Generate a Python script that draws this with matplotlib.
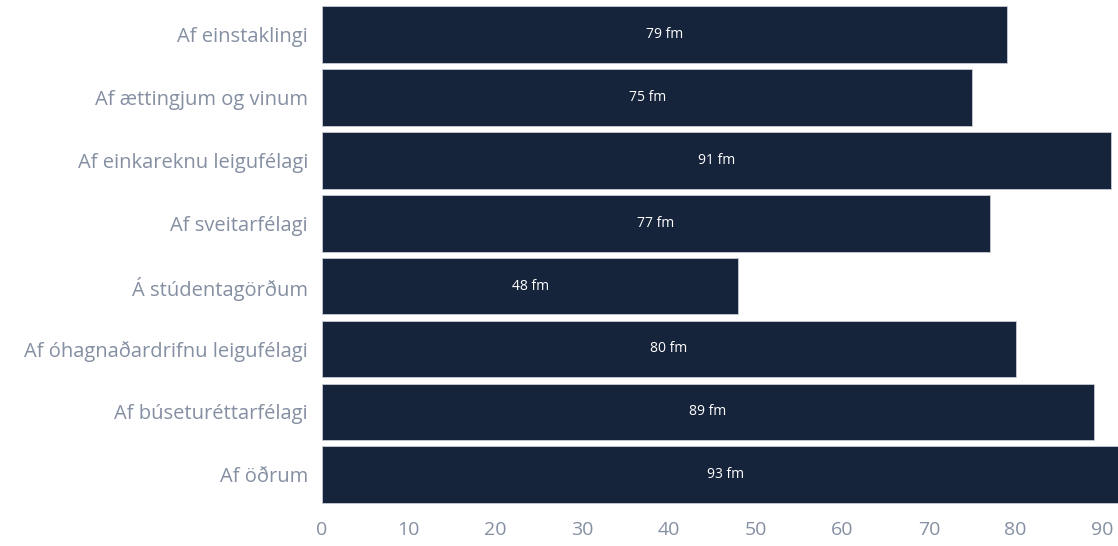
import matplotlib.pyplot as plt
import numpy as np

categories = ['Af einstaklingi', 'Af ættingjum og vinum', 'Af einkareknu leigufélagi',
              'Af sveitarfélagi', 'Á stúdentagörðum', 'Af óhagnaðardrifnu leigufélagi',
              'Af búseturéttarfélagi', 'Af öðrum']
values = [79, 75, 91, 77, 48, 80, 89, 93]
x_ticks = [0, 10, 20, 30, 40, 50, 60, 70, 80, 90]

plt.rcParams['font.family'] = ['Open Sans', 'DejaVu Sans']

bar_color = '#15233b'
text_gray = '#858fa2'

fig = plt.figure(figsize=(11.18, 5.46), dpi=100)
ax = fig.add_axes([0.288, 0.073, 0.712, 0.921])

y = np.arange(len(categories))
ax.barh(y, values, height=0.9, color=bar_color, edgecolor='#c8ccd4', linewidth=0.6)

for yi, v in zip(y, values):
    ax.text(v / 2, yi, f'{v} fm', color='white', ha='center', va='center', fontsize=10)

ax.set_yticks(y)
ax.set_yticklabels(categories, fontsize=14.5, color=text_gray)
ax.set_xticks(x_ticks)
ax.set_xticklabels([str(t) for t in x_ticks], fontsize=14, color=text_gray)
ax.set_xlim(0, 91.8)
ax.set_ylim(len(categories) - 0.5, -0.5)
ax.tick_params(axis='x', length=0, pad=11)
ax.tick_params(axis='y', length=0, pad=10)
for s in ax.spines.values():
    s.set_visible(False)

plt.savefig('out.png', dpi=100)
